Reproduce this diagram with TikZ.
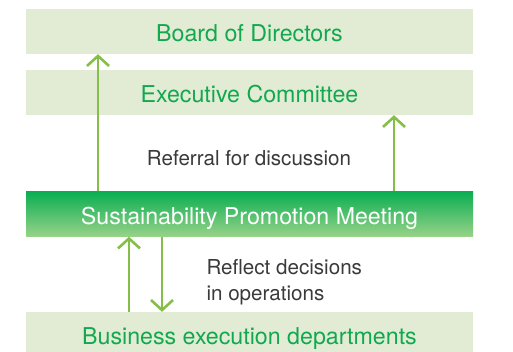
\documentclass[tikz,border=0pt]{standalone}
\usepackage{fontspec}
\setmainfont{TeX Gyre Heros}
\usetikzlibrary{arrows.meta}
\definecolor{boxfill}{HTML}{E2ECD4}
\definecolor{boxtext}{HTML}{12A84F}
\definecolor{arrowgreen}{HTML}{86BF48}
\definecolor{spmdark}{HTML}{0AAE52}
\definecolor{spmlight}{HTML}{98D288}
\definecolor{notetext}{HTML}{3A3A3A}
\tikzset{
  orgbox/.style={fill=boxfill, text=boxtext, minimum width=447pt, minimum height=45pt,
    inner sep=0pt, text height=20.6pt, text depth=0pt, font=\fontsize{23.2}{27}\selectfont},
  flow/.style={draw=arrowgreen, line width=2.6pt, -{Straight Barb[length=10pt,width=22pt]}},
  note/.style={text=notetext, font=\fontsize{20.6}{26}\selectfont, align=left}
}
\begin{document}
\begin{tikzpicture}[x=1pt,y=-1pt]
      \useasboundingbox (0,0) rectangle (513,352);
      \draw
        (249.5,31.5) node[orgbox] (board){Board of Directors}
        (249.5,92.5) node[orgbox] (exec){Executive Committee}
        (249.5,214) node[orgbox, top color=spmdark, middle color=spmdark!75!spmlight,
          bottom color=spmlight, text=white] (spm){Sustainability Promotion Meeting}
        (249.5,334.5) node[orgbox] (biz){Business execution departments};
      \node[note] (referral) at (249,158) {Referral for discussion};
      \node[note, anchor=west] (reflect) at (203,282) {Reflect decisions\\in operations};
      \coordinate (upa) at (98,191);
      \coordinate (upb) at (394,191);
      \coordinate (upc) at (129,312);
      \coordinate (downa) at (162,237);
      \begin{scope}[flow]
        \draw (upa) to (upa |- board.south);
        \draw (upb) to (upb |- exec.south);
        \draw (upc) to (upc |- spm.south);
        \draw (downa) to (downa |- biz.north);
      \end{scope}
    \end{tikzpicture}
\end{document}
